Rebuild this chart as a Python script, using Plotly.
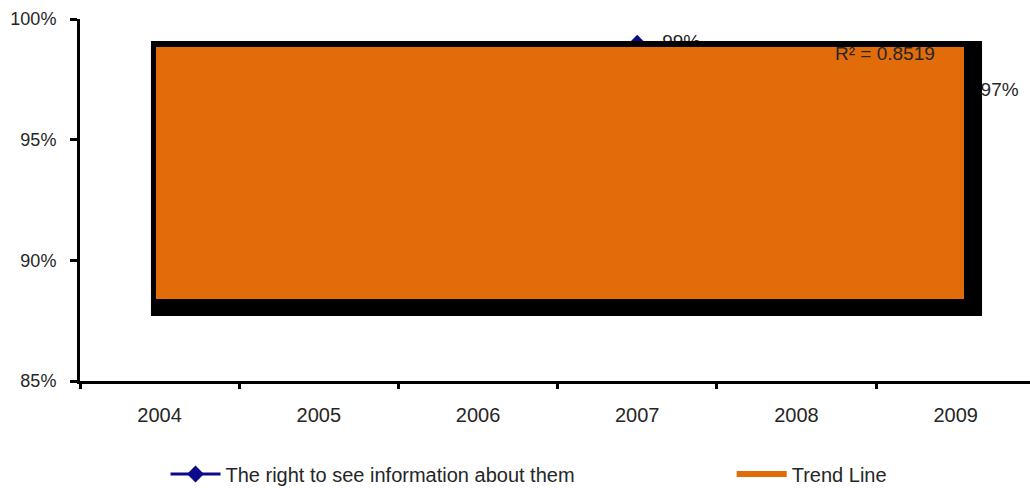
import numpy as np
import plotly.graph_objects as go

# Survey results by year
years = ["2004", "2005", "2006", "2007", "2008", "2009"]
right_to_see = [89, 90, 93, 99, 96, 97]
series_name = "The right to see information about them"
trend_name = "Trend Line"
r2_label = "R² = 0.8519"
y_ticks = [85, 90, 95, 100]
y_tick_labels = ["85%", "90%", "95%", "100%"]

# Linear trend fitted across the years
idx = np.arange(len(years))
slope, intercept = np.polyfit(idx, right_to_see, 1)
trend = slope * idx + intercept

FONT = "'Liberation Sans', Arial, sans-serif"
TEXT = "#262626"
NAVY = "#0a0a8a"
ORANGE = "#e36c0a"

fig = go.Figure()
fig.add_trace(go.Scatter(
    x=years, y=right_to_see, name=series_name,
    mode="lines+markers+text",
    line=dict(color=NAVY, width=3),
    marker=dict(symbol="diamond", size=13, color=NAVY),
    text=[f"   {v}%" for v in right_to_see],
    textposition="middle right",
    textfont=dict(family=FONT, size=19, color=TEXT),
    legend="legend",
))
fig.add_trace(go.Scatter(
    x=years, y=trend, name=trend_name, mode="lines",
    line=dict(color=ORANGE, width=6),
    legend="legend2",
))

# Framed orange panel with a dark drop edge
fig.add_shape(type="rect", xref="paper", yref="paper",
              x0=0.0747, x1=0.9495, y0=0.1796, y1=0.9392,
              fillcolor="black", line=dict(width=0), layer="above")
fig.add_shape(type="rect", xref="paper", yref="paper",
              x0=0.080, x1=0.9305, y0=0.2265, y1=0.9227,
              fillcolor=ORANGE, line=dict(width=0), layer="above")

fig.add_annotation(text=r2_label, xref="paper", yref="paper",
                   x=0.8474, y=0.906, xanchor="center", yanchor="middle",
                   showarrow=False,
                   font=dict(family=FONT, size=19, color=TEXT))

legend_common = dict(orientation="h", yanchor="middle", y=-0.257,
                     xanchor="left", itemwidth=50, bgcolor="rgba(0,0,0,0)",
                     font=dict(family=FONT, size=20, color=TEXT))

fig.update_layout(
    width=1030, height=488,
    margin=dict(l=80, r=0, t=19, b=107, autoexpand=False),
    paper_bgcolor="white", plot_bgcolor="white",
    font=dict(family=FONT, size=18, color=TEXT),
    showlegend=True,
    legend=dict(x=0.09, **legend_common),
    legend2=dict(x=0.686, **legend_common),
    xaxis=dict(type="category", range=[-0.5, 5.467],
               showline=True, linecolor="black", linewidth=3,
               ticks="outside", tickson="boundaries", ticklen=5, tickwidth=3,
               tickcolor="black", showgrid=False, zeroline=False,
               ticklabelstandoff=14,
               tickfont=dict(family=FONT, size=20, color=TEXT)),
    yaxis=dict(range=[85, 100], tickvals=y_ticks, ticktext=y_tick_labels,
               showline=True, linecolor="black", linewidth=3,
               ticks="outside", ticklen=7, tickwidth=3, tickcolor="black",
               showgrid=False, zeroline=False, ticklabelstandoff=10,
               tickfont=dict(family=FONT, size=18, color=TEXT)),
)

fig.write_html("out.html")
